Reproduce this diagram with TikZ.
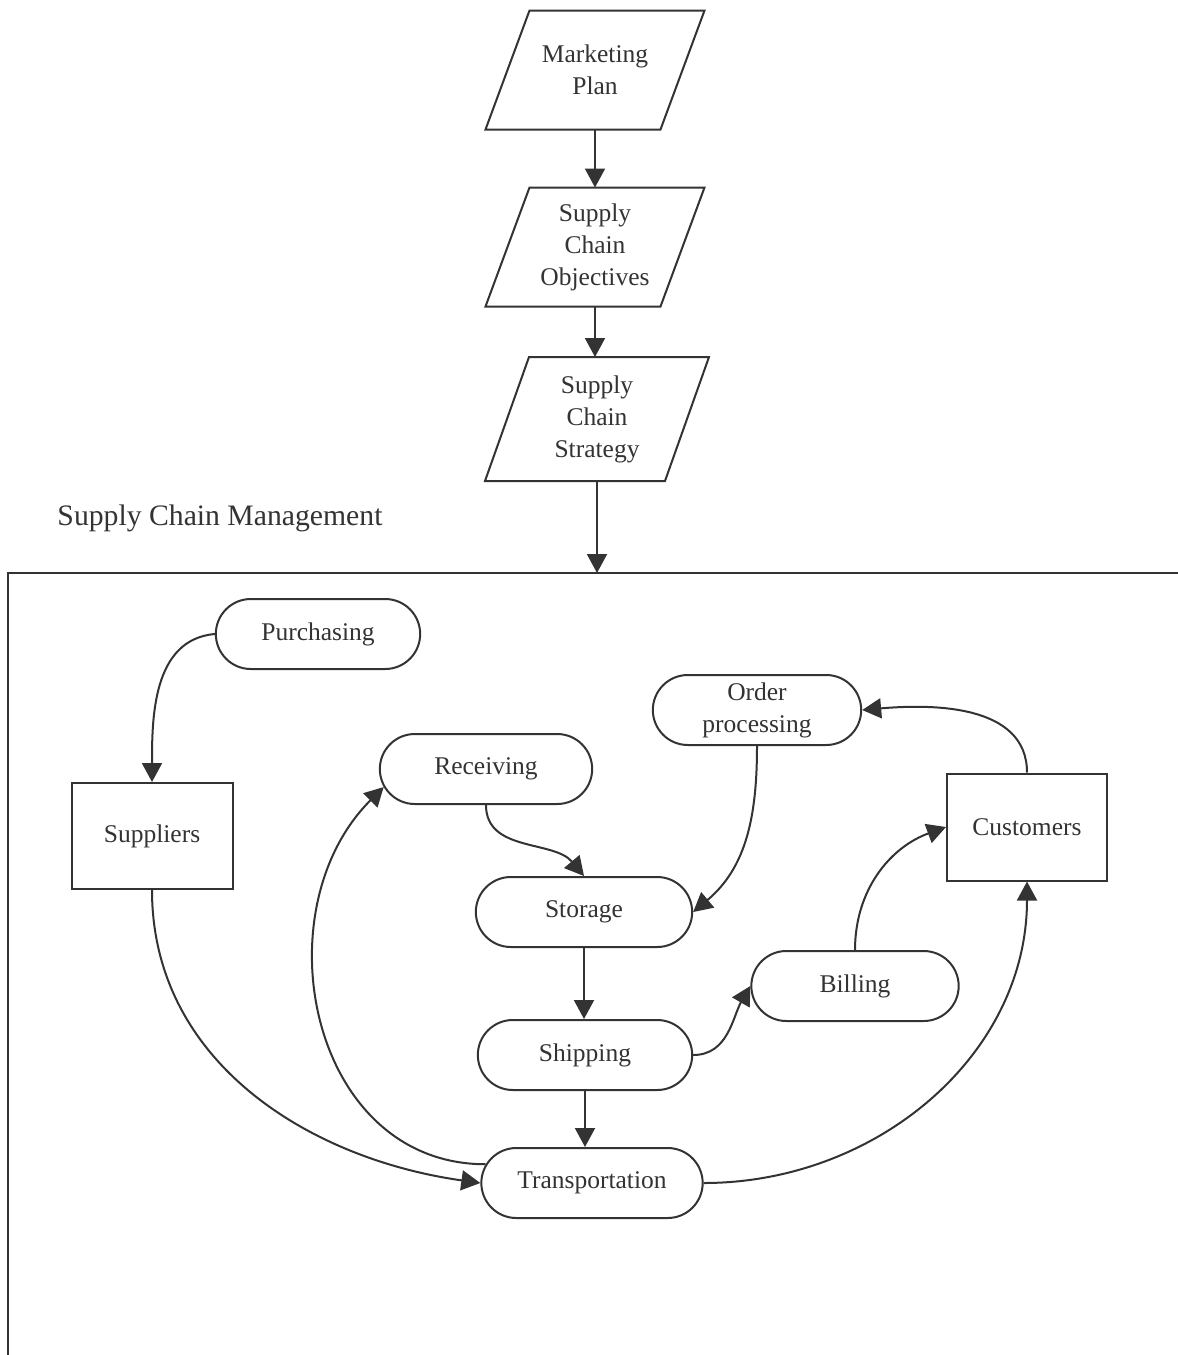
\documentclass[tikz,border=0pt]{standalone}
\usepackage{fontspec}
\setmainfont{Liberation Serif}
\usetikzlibrary{shapes.misc,arrows.meta}
\definecolor{ink}{HTML}{333333}

\begin{document}
\begin{tikzpicture}[x=1pt,y=-1pt,line width=2pt,color=ink,font=\fontsize{25.5}{32}\selectfont]
        \tikzstyle{plan} = [rectangle, minimum width=173, minimum height=117, align=center, inner sep=0pt]
        \tikzstyle{task} = [draw, rounded rectangle, minimum height=70, align=center]
        \tikzstyle{party} = [draw, rectangle, minimum width=161, minimum height=106]
        \tikzstyle{flow} = [-{Triangle[length=19pt,width=20pt]}]

        \useasboundingbox (0,0) rectangle (1178,1355);

        % planning chain on top
        \node[plan] (mkt) at (595,70) {Marketing\\Plan};
        \node[plan] (obj) at (595,247) {Supply\\Chain\\Objectives};
        \node[plan, minimum height=122, minimum width=178] (strat) at (597,419) {Supply\\Chain\\Strategy};

        % slanted outlines round the plan nodes
        \foreach \n in {mkt,obj,strat}
            \draw ([xshift=22pt]\n.north west) -- ([xshift=22pt]\n.north east)
                -- ([xshift=-22pt]\n.south east) -- ([xshift=-22pt]\n.south west) -- cycle;

        \node[font=\fontsize{29.7}{36}\selectfont] (scm) at (220,518) {Supply Chain Management};

        % the management frame
        \draw (1178,573) -- (8,573) -- (8,1355);
        \coordinate (entry) at (597,573);

        \node[task, minimum width=211] (purch) at (318,634) {Purchasing};
        \node[task, minimum width=215] (order) at (757,710) {Order\\processing};
        \node[task, minimum width=219] (recv) at (486,769) {Receiving};
        \node[party] (supp) at (152,836) {Suppliers};
        \node[party, minimum width=160, minimum height=107] (cust) at (1027,827) {Customers};
        \node[task, minimum width=223] (stor) at (584,912) {Storage};
        \node[task, minimum width=214] (bill) at (855,986) {Billing};
        \node[task, minimum width=221] (ship) at (585,1055) {Shipping};
        \node[task, minimum width=228] (trans) at (592,1183) {Transportation};

        \draw[flow] (mkt.south) -- (obj.south |- obj.north);
        \draw[flow] (obj.south) -- (obj.south |- strat.north);
        \draw[flow] (strat.south) -- (entry);

        \draw[flow] (purch.west) to[out=185,in=90] (supp.north);
        \draw[flow] (recv.south) to[out=-90,in=130] (stor.north);
        \draw[flow] (order.south) to[out=-90,in=40] (stor.east);
        \draw[flow] (stor.south) -- (stor.south |- ship.north);
        \draw[flow] (ship.south) -- (ship.south |- trans.north);
        \draw[flow] (ship.east) to[out=0,in=240] (bill.west);
        \draw[flow] (bill.north) to[out=90,in=200] (cust.west);
        \draw[flow] (cust.north) to[out=90,in=5] (order.east);

        % transportation links
        \draw[flow] (supp.south) to[out=-90,in=172] (trans.west);
        \draw[flow] (trans.170) to[out=180,in=225,looseness=1.15] (recv.190);
        \draw[flow] (trans.east) to[out=0,in=-90] (cust.south);
\end{tikzpicture}
\end{document}
